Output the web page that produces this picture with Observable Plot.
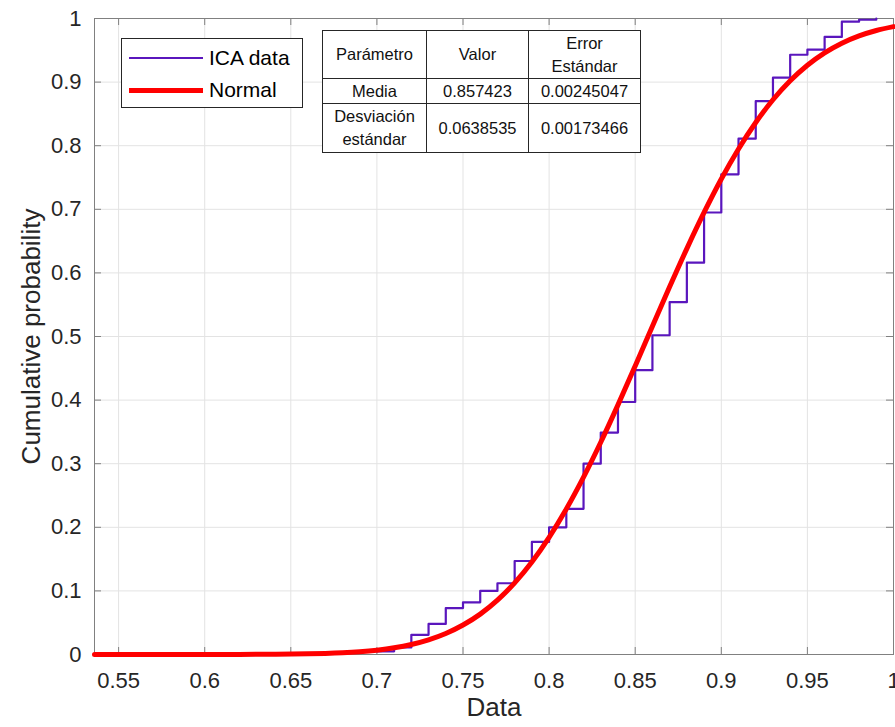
<!DOCTYPE html>
<html>
<head>
<meta charset="utf-8">
<script src="https://cdn.jsdelivr.net/npm/d3@7"></script>
<script src="https://cdn.jsdelivr.net/npm/@observablehq/plot@0.6"></script>
<style>
  html, body { margin: 0; padding: 0; background: #fff; }
  #wrap { position: relative; width: 895px; height: 727px; font-family: "Liberation Sans", Arial, sans-serif; color: #262626; }
  #wrap svg { position: absolute; left: 0; top: 0; }
  #legend { position: absolute; left: 121px; top: 38px; width: 182px; height: 70px; box-sizing: border-box;
            border: 1px solid #262626; background: #fff; }
  .lg-row { position: absolute; left: 0; height: 30px; width: 100%; }
  .lg-line { position: absolute; left: 7px; width: 74px; }
  .lg-text { position: absolute; left: 87px; font-size: 21px; line-height: 30px; top: 0; color: #000; }
  #ptable { position: absolute; left: 322px; top: 30px; border-collapse: collapse; background: #fff;
            font-size: 16.5px; color: #111; }
  #ptable td { border: 1px solid #262626; text-align: center; padding: 0; line-height: 23px; }
</style>
</head>
<body>
<div id="wrap"></div>
<script>
// ---- data ----
const xDomain = [0.536, 1.0];
const yDomain = [0, 1];
const xTicks = [0.55, 0.6, 0.65, 0.7, 0.75, 0.8, 0.85, 0.9, 0.95, 1];
const yTicks = [0, 0.1, 0.2, 0.3, 0.4, 0.5, 0.6, 0.7, 0.8, 0.9, 1];

// empirical CDF ("ICA data") – step positions and heights
const ecdfX = [0.70, 0.71, 0.72, 0.73, 0.74, 0.75, 0.76, 0.77, 0.78, 0.79,
               0.80, 0.81, 0.82, 0.83, 0.84, 0.85, 0.86, 0.87, 0.88, 0.89,
               0.90, 0.91, 0.92, 0.93, 0.94, 0.95, 0.96, 0.97, 0.98, 0.99];
const ecdfY = [0.005, 0.011, 0.031, 0.048, 0.073, 0.082, 0.100, 0.112, 0.147, 0.177,
               0.200, 0.229, 0.300, 0.349, 0.397, 0.447, 0.502, 0.554, 0.616, 0.695,
               0.755, 0.811, 0.870, 0.907, 0.943, 0.951, 0.971, 0.995, 0.998, 1.000];

// fitted normal CDF ("Normal") – sampled values
const normX = [0.536, 0.54, 0.58, 0.62, 0.64, 0.66, 0.67, 0.68, 0.69,
               0.70, 0.71, 0.72, 0.73, 0.74, 0.75, 0.76, 0.77, 0.78, 0.79,
               0.80, 0.81, 0.82, 0.83, 0.84, 0.85, 0.86, 0.87, 0.88, 0.89,
               0.90, 0.91, 0.92, 0.93, 0.94, 0.95, 0.96, 0.97, 0.98, 0.99, 1.00];
const normY = [0, 0, 0.00001, 0.0001, 0.00033, 0.00099, 0.00167, 0.00273, 0.00437,
               0.00685, 0.01047, 0.0157, 0.0230, 0.0330, 0.0463, 0.0635, 0.0855, 0.1127, 0.1455,
               0.1842, 0.2288, 0.2789, 0.3338, 0.3925, 0.4537, 0.5161, 0.5781, 0.6382, 0.6950,
               0.7476, 0.7949, 0.8365, 0.8722, 0.9020, 0.9265, 0.9459, 0.9611, 0.9726, 0.9811, 0.9872];

const seriesNames = ["ICA data", "Normal"];
const seriesColors = ["#5a16bd", "#ff0000"];

// parameter table
const tableHeader = ["Parámetro", "Valor", "Error<br>Estándar"];
const paramNames = ["Media", "Desviación<br>estándar"];
const paramValues = ["0.857423", "0.0638535"];
const paramErrors = ["0.00245047", "0.00173466"];

// ---- build ----
const ecdf = ecdfX.map((x, i) => ({x, y: ecdfY[i]}));
const normal = normX.map((x, i) => ({x, y: normY[i]}));

const W = 895, H = 727, mL = 94, mR = 2, mT = 18, mB = 73;
const plotW = W - mL - mR, plotH = H - mT - mB;
const tickLen = 7;
const axisColor = "#808080";

const chart = Plot.plot({
  width: W, height: H,
  marginLeft: mL, marginRight: mR, marginTop: mT, marginBottom: mB,
  style: {fontFamily: "'Liberation Sans', Arial, sans-serif", color: "#262626", background: "transparent", overflow: "visible"},
  x: {domain: xDomain},
  y: {domain: yDomain},
  marks: [
    Plot.gridX(xTicks, {stroke: "#e3e3e3", strokeOpacity: 1}),
    Plot.gridY(yTicks, {stroke: "#e3e3e3", strokeOpacity: 1}),
    Plot.frame({stroke: axisColor}),
    Plot.tickX(xTicks, {x: d => d, stroke: axisColor, insetTop: plotH - tickLen}),
    Plot.tickX(xTicks, {x: d => d, stroke: axisColor, insetBottom: plotH - tickLen}),
    Plot.tickY(yTicks, {y: d => d, stroke: axisColor, insetRight: plotW - tickLen}),
    Plot.tickY(yTicks, {y: d => d, stroke: axisColor, insetLeft: plotW - tickLen}),
    Plot.line(ecdf, {x: "x", y: "y", curve: "step-after", stroke: seriesColors[0], strokeWidth: 2.2}),
    Plot.line(normal, {x: "x", y: "y", curve: "monotone-x", stroke: seriesColors[1], strokeWidth: 5}),
    Plot.axisX(xTicks, {tickSize: 0, tickPadding: 18, fontSize: 22, tickFormat: d3.format("~g"), label: null, fill: "#262626"}),
    Plot.axisY(yTicks, {tickSize: 0, tickPadding: 13, fontSize: 22, tickFormat: d3.format("~g"), label: null, fill: "#262626"}),
    Plot.text(["Data"], {frameAnchor: "bottom", dy: 61, fontSize: 26, fill: "#262626"}),
    Plot.text(["Cumulative probability"], {frameAnchor: "left", textAnchor: "middle", dx: -63, rotate: -90, fontSize: 26, fill: "#262626"})
  ]
});

const wrap = document.getElementById("wrap");
wrap.appendChild(chart);

// legend
const legend = document.createElement("div");
legend.id = "legend";
seriesNames.forEach((name, i) => {
  const row = document.createElement("div");
  row.className = "lg-row";
  row.style.top = (4 + i * 32) + "px";
  const ln = document.createElement("div");
  ln.className = "lg-line";
  const lw = i === 0 ? 2 : 5;
  ln.style.height = lw + "px";
  ln.style.top = (15 - lw / 2) + "px";
  ln.style.background = seriesColors[i];
  const tx = document.createElement("div");
  tx.className = "lg-text";
  tx.textContent = name;
  row.appendChild(ln); row.appendChild(tx);
  legend.appendChild(row);
});
wrap.appendChild(legend);

// table
const tbl = document.createElement("table");
tbl.id = "ptable";
const colW = [103, 101, 111];
const rowH = [48, 25, 49];
const rows = [tableHeader, ...paramNames.map((n, i) => [n, paramValues[i], paramErrors[i]])];
rows.forEach((r, ri) => {
  const tr = document.createElement("tr");
  tr.style.height = rowH[ri] + "px";
  r.forEach((c, ci) => {
    const td = document.createElement("td");
    td.style.width = colW[ci] + "px";
    td.innerHTML = c;
    tr.appendChild(td);
  });
  tbl.appendChild(tr);
});
wrap.appendChild(tbl);
</script>
</body>
</html>
